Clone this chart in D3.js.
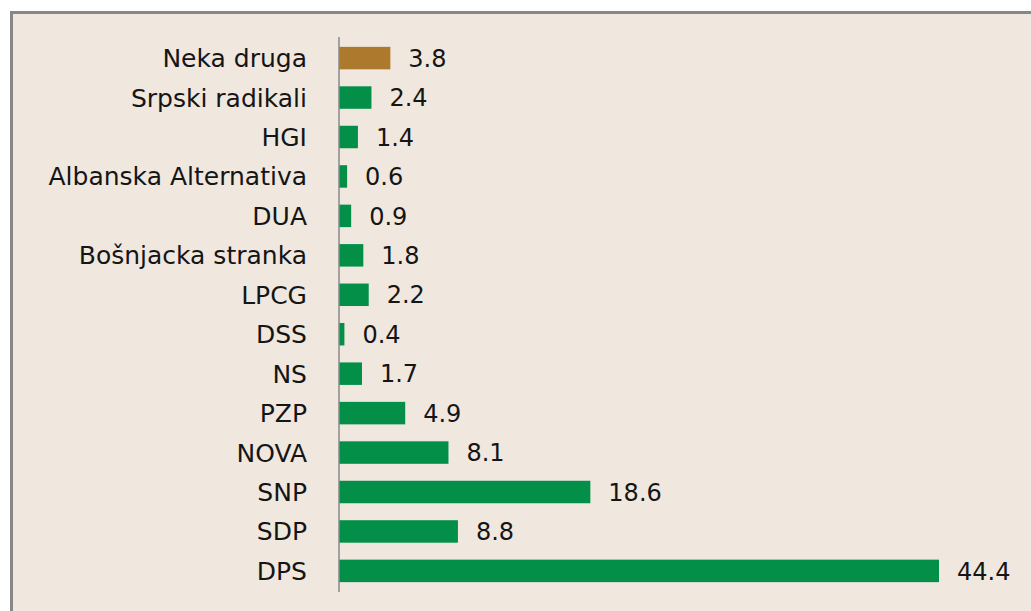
<!DOCTYPE html>
<html><head><meta charset="utf-8">
<script src="https://cdn.jsdelivr.net/npm/d3@7"></script>
<style>html,body{margin:0;padding:0;background:#fff;}svg{display:block;}</style>
</head><body>
<svg id="c" width="1031" height="611"></svg>
<script>
const categories = ["Neka druga","Srpski radikali","HGI","Albanska Alternativa","DUA","Bošnjacka stranka","LPCG","DSS","NS","PZP","NOVA","SNP","SDP","DPS"];
const values = [3.8,2.4,1.4,0.6,0.9,1.8,2.2,0.4,1.7,4.9,8.1,18.6,8.8,44.4];
const valueLabels = ["3.8","2.4","1.4","0.6","0.9","1.8","2.2","0.4","1.7","4.9","8.1","18.6","8.8","44.4"];
const barColors = ["#ad7a2d","#038f48","#038f48","#038f48","#038f48","#038f48","#038f48","#038f48","#038f48","#038f48","#038f48","#038f48","#038f48","#038f48"];

const svg = d3.select("#c");
svg.append("rect").attr("x",11.5).attr("y",12.5).attr("width",1100).attr("height",700)
  .attr("fill","#f0e7df").attr("stroke","#878787").attr("stroke-width",3);

const x0 = 339;
const x = d3.scaleLinear().domain([0,44.4]).range([x0,939]);
const y = d3.scaleBand().domain(categories).range([37,592]).paddingInner(0.43).paddingOuter(0.25);

const data = categories.map((c,i)=>({c,v:values[i],l:valueLabels[i],col:barColors[i]}));

svg.selectAll("rect.bar").data(data).enter().append("rect").attr("class","bar")
  .attr("x",x(0)).attr("y",d=>y(d.c)).attr("width",d=>x(d.v)-x(0)).attr("height",y.bandwidth())
  .attr("fill",d=>d.col);

const yAxis = d3.axisLeft(y).tickSize(0).tickPadding(32);
const g = svg.append("g").attr("transform",`translate(${x0},0)`).call(yAxis);
g.select(".domain").attr("stroke","#8a8a8a").attr("stroke-width",1.5).attr("d","M0,37V592");
g.selectAll("text").attr("font-family","'DejaVu Sans', sans-serif").attr("font-size",25).attr("fill","#151515").attr("dy","0.36em");

svg.selectAll("text.val").data(data).enter().append("text").attr("class","val")
  .attr("x",d=>x(d.v)+18).attr("y",d=>y(d.c)+y.bandwidth()/2).attr("dy","0.36em")
  .attr("font-family","'DejaVu Sans', sans-serif").attr("font-size",24).attr("fill","#151515")
  .text(d=>d.l);
</script>
</body></html>
